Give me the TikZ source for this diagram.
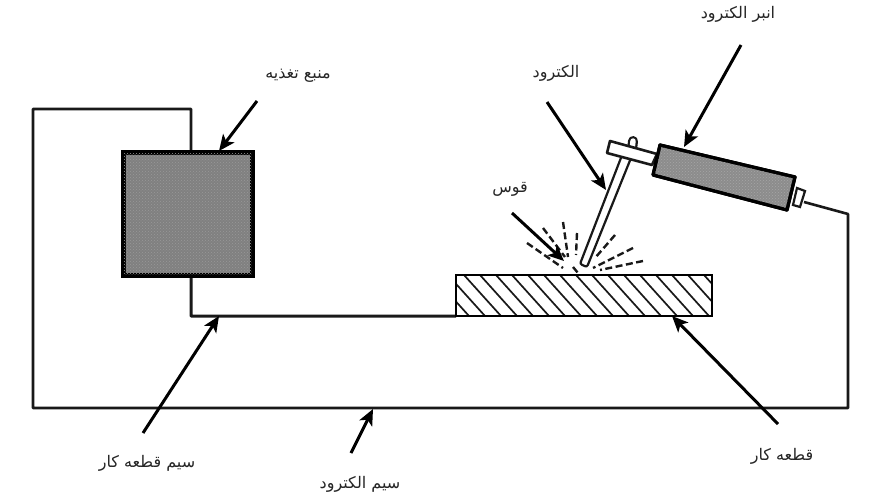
\documentclass[tikz,border=0pt]{standalone}
\usepackage{fontspec}
\usetikzlibrary{arrows.meta,patterns}
\TeXXeTstate=1
\newfontfamily\arabicfont[Script=Arabic]{DejaVu Sans}
\tikzset{
  wire/.style={line width=2.6pt,black!90,line join=round},
  pointer/.style={line width=3pt,black,-{Stealth[length=16pt,width=14pt,inset=4pt]}},
  halftone/.style={draw=black,line width=3.2pt,fill=black!50,line join=round},
  label/.style={font=\arabicfont\fontsize{16}{18}\selectfont,inner sep=0pt,text=black!85},
  spark/.style={line width=2.4pt,black!90,dash pattern=on 7pt off 3.5pt}
}
\begin{document}
\begin{tikzpicture}[x=1pt,y=-1pt]
\useasboundingbox[fill=white] (0,0) rectangle (889,500);
% labels
\node[label] (lHolder) at (738,14) {\beginR انبر الکترود\endR};
\node[label] (lElec) at (556,73) {\beginR الکترود\endR};
\node[label] (lArc) at (510,189) {\beginR قوس\endR};
\node[label] (lSource) at (298,76) {\beginR منبع تغذیه\endR};
\node[label] (lWorkWire) at (147,463) {\beginR سیم قطعه کار\endR};
\node[label] (lElecWire) at (360,484) {\beginR سیم الکترود\endR};
\node[label] (lWork) at (782,456) {\beginR قطعه کار\endR};
% pointer tails
\coordinate (tHolder) at (741,45);
\coordinate (tElec) at (547,102);
\coordinate (tArc) at (512,213);
\coordinate (tSource) at (257,101);
\coordinate (tWorkWire) at (143,433);
\coordinate (tElecWire) at (351,453);
\coordinate (tWork) at (778,424);
% pointer tips
\coordinate (hHolder) at (684,147);
\coordinate (hElec) at (606,190);
\coordinate (hArc) at (564,261);
\coordinate (hSource) at (219,151);
\coordinate (hWorkWire) at (219,316);
\coordinate (hElecWire) at (373,409);
\coordinate (hWork) at (672,316);
% wires
\coordinate (cBoxTop) at (191,151);
\coordinate (cBoxBot) at (191,276);
\coordinate (cWorkL) at (456,316);
\coordinate (cCap) at (804,202);
\draw[wire] (cBoxTop) -- (191,109) -- (33,109) -- (33,408) -- (848,408) -- (848,214) -- (cCap);
\draw[wire,line width=3pt] (cBoxBot) -- (191.2,316.2) -- (cWorkL);
% power source
\node[halftone,minimum width=128pt,minimum height=122pt,inner sep=0pt] (source) at (188,214) {};
\fill[pattern=crosshatch dots,pattern color=black!40] (source.south west) rectangle (source.north east);
\draw[black,line width=3.2pt] (source.south west) rectangle (source.north east);
% workpiece
\node[minimum width=256pt,minimum height=41pt,inner sep=0pt] (work) at (584,295.5) {};
\begin{scope}
\clip (456,275) rectangle (712,316);
\foreach \i in {-3,...,16}{
  \draw[line width=1.7pt,black!90] ({464+16*\i},275) -- ({464+16*\i+37},316);
}
\end{scope}
\draw[black,line width=2.4pt] (work.south west) rectangle (work.north east);
% electrode
\draw[line width=2.2pt,black!90,fill=white,rounded corners=2pt]
  (624,150) -- (580,264) -- (587,267) -- (633,153) -- cycle;
% knob
\draw[line width=10pt,line cap=round,black!90] (632,150) -- (633,141);
\draw[line width=5.4pt,line cap=round,white] (632,150) -- (633,141);
% holder head
\draw[line width=2.6pt,black!90,fill=white,line join=round] (610,141) -- (657,154) -- (652,165) -- (607,153) -- cycle;
% holder end cap
\draw[line width=2.2pt,black!90,fill=white] (797,188) -- (805,191) -- (800,207) -- (793,205) -- cycle;
% handle
\draw[line width=3.2pt,black,fill=black!45,line join=round] (660,145) -- (795,177) -- (787,210) -- (653,175) -- cycle;
\fill[pattern=crosshatch dots,pattern color=black!35] (660,145) -- (795,177) -- (787,210) -- (653,175) -- cycle;
\draw[line width=3.2pt,black,line join=round] (660,145) -- (795,177) -- (787,210) -- (653,175) -- cycle;
% sparks
\draw[spark] (563,222) -- (568,257);
\draw[spark] (577,233) -- (576,255);
\draw[spark] (543,228) -- (565,257);
\draw[spark] (527,243) -- (563,268);
\draw[spark] (615,235) -- (595,258);
\draw[spark] (633,248) -- (593,268);
\draw[spark] (643,261) -- (600,270);
\draw[spark] (573,267) -- (578,273);
% pointers
\draw[pointer] (tHolder) -- (hHolder);
\draw[pointer] (tElec) -- (hElec);
\draw[pointer] (tArc) -- (hArc);
\draw[pointer] (tSource) -- (hSource);
\draw[pointer] (tWorkWire) -- (hWorkWire);
\draw[pointer] (tElecWire) -- (hElecWire);
\draw[pointer] (tWork) -- (hWork);
\end{tikzpicture}
\end{document}
